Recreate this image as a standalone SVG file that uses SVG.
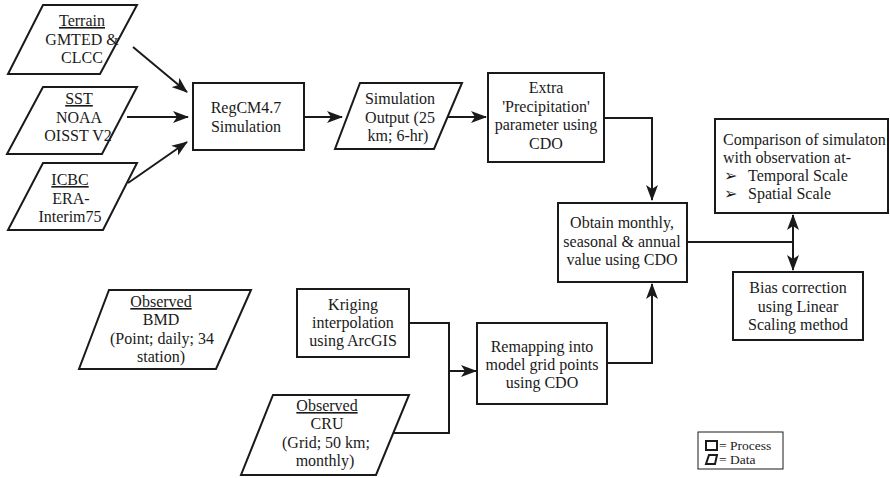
<svg xmlns="http://www.w3.org/2000/svg" width="890" height="478" viewBox="0 0 890 478">
<defs>
<style>
.b{fill:#fff;stroke:#1a1a1a;stroke-width:2}
.t{font-family:"Liberation Serif","Times New Roman",serif;font-size:16px;fill:#1a1a1a;text-anchor:middle}
.l{text-anchor:start}
.u{text-decoration:underline}
.c{fill:none;stroke:#1a1a1a;stroke-width:2}
.lg{font-family:"Liberation Serif","Times New Roman",serif;font-size:13.5px;fill:#1a1a1a}
</style>
<marker id="ah" viewBox="0 0 16 12" refX="15" refY="6" markerWidth="16" markerHeight="12" markerUnits="userSpaceOnUse" orient="auto-start-reverse">
<path d="M0,0 L16,6 L0,12 L4,6 z" fill="#1a1a1a"/>
</marker>
</defs>
<rect width="890" height="478" fill="#fff"/>

<g id="connectors">
<line class="c" x1="133" y1="47" x2="187" y2="92" marker-end="url(#ah)"/>
<line class="c" x1="127" y1="117" x2="188" y2="117" marker-end="url(#ah)"/>
<line class="c" x1="128" y1="183" x2="187" y2="142" marker-end="url(#ah)"/>
<line class="c" x1="304" y1="117" x2="342" y2="117" marker-end="url(#ah)"/>
<line class="c" x1="448" y1="117" x2="486" y2="117" marker-end="url(#ah)"/>
<polyline class="c" points="604,118 652,118 652,200" marker-end="url(#ah)"/>
<polyline class="c" points="687,242 793,242"/>
<line class="c" x1="793" y1="242" x2="793" y2="215" marker-end="url(#ah)"/>
<line class="c" x1="793" y1="242" x2="793" y2="270" marker-end="url(#ah)"/>
<polyline class="c" points="607,363 652,363 652,284" marker-end="url(#ah)"/>
<polyline class="c" points="409,323 449,323 449,433 393,433"/>
<line class="c" x1="449" y1="371" x2="476" y2="371" marker-end="url(#ah)"/>
</g>

<g id="terrain">
<polygon class="b" points="43,5 137,5 100,74 8,74"/>
<text class="t" x="82" y="26"><tspan class="u">Terrain</tspan></text>
<text class="t" x="82" y="44.5">GMTED &amp;</text>
<text class="t" x="82" y="63">CLCC</text>
</g>
<g id="sst">
<polygon class="b" points="43,87 137,87 102,154 7,154"/>
<text class="t" x="79" y="104"><tspan class="u">SST</tspan></text>
<text class="t" x="79" y="122.5">NOAA</text>
<text class="t" x="78" y="141">OISST V2</text>
</g>
<g id="icbc">
<polygon class="b" points="43,163 137,163 103,230 8,230"/>
<text class="t" x="70" y="185"><tspan class="u">ICBC</tspan></text>
<text class="t" x="71" y="203.5">ERA-</text>
<text class="t" x="70" y="222">Interim75</text>
</g>
<g id="regcm">
<rect class="b" x="193" y="83" width="111" height="67"/>
<text class="t" x="246" y="113">RegCM4.7</text>
<text class="t" x="246" y="131.5">Simulation</text>
</g>
<g id="simout">
<polygon class="b" points="360,83 462,83 434,149 335,149"/>
<text class="t" x="400" y="104">Simulation</text>
<text class="t" x="400" y="122.5">Output (25</text>
<text class="t" x="398" y="141">km; 6-hr)</text>
</g>
<g id="extra">
<rect class="b" x="488" y="73" width="116" height="89"/>
<text class="t" x="546" y="93">Extra</text>
<text class="t" x="546" y="111.5">'Precipitation'</text>
<text class="t" x="546" y="130">parameter using</text>
<text class="t" x="546" y="148.5">CDO</text>
</g>
<g id="obtain">
<rect class="b" x="558" y="203" width="129" height="79"/>
<text class="t" x="622" y="228">Obtain monthly,</text>
<text class="t" x="622" y="246.5">seasonal &amp; annual</text>
<text class="t" x="622" y="265">value using CDO</text>
</g>
<g id="comparison">
<rect class="b" x="715" y="119" width="173" height="94"/>
<text class="t l" x="723" y="145">Comparison of simulaton</text>
<text class="t l" x="723" y="163">with observation at-</text>
<text class="t l" x="724" y="181">➢</text>
<text class="t l" x="748" y="181">Temporal Scale</text>
<text class="t l" x="724" y="199">➢</text>
<text class="t l" x="748" y="199">Spatial Scale</text>
</g>
<g id="bias">
<rect class="b" x="733" y="272" width="130" height="68"/>
<text class="t" x="798" y="293">Bias correction</text>
<text class="t" x="798" y="311.5">using Linear</text>
<text class="t" x="798" y="330">Scaling method</text>
</g>
<g id="bmd">
<polygon class="b" points="109,290 251,290 216,369 79,369"/>
<text class="t" x="161" y="307"><tspan class="u">Observed</tspan></text>
<text class="t" x="161" y="325">BMD</text>
<text class="t" x="162" y="343.5">(Point; daily; 34</text>
<text class="t" x="161" y="362">station)</text>
</g>
<g id="kriging">
<rect class="b" x="297" y="289" width="112" height="68"/>
<text class="t" x="353" y="310">Kriging</text>
<text class="t" x="353" y="328">interpolation</text>
<text class="t" x="353" y="346">using ArcGIS</text>
</g>
<g id="cru">
<polygon class="b" points="273,395 409,395 376,475 241,475"/>
<text class="t" x="327" y="411"><tspan class="u">Observed</tspan></text>
<text class="t" x="327" y="429">CRU</text>
<text class="t" x="326" y="447.5">(Grid; 50 km;</text>
<text class="t" x="325" y="466">monthly)</text>
</g>
<g id="remapping">
<rect class="b" x="477" y="323" width="130" height="81"/>
<text class="t" x="542" y="352">Remapping into</text>
<text class="t" x="542" y="370">model grid points</text>
<text class="t" x="542" y="388">using CDO</text>
</g>
<g id="legend">
<rect x="698" y="432" width="85" height="37" fill="#fff" stroke="#1a1a1a" stroke-width="1"/>
<rect x="706" y="441" width="11" height="9" fill="none" stroke="#1a1a1a" stroke-width="2"/>
<polygon points="709,455 717,455 715,464 706,464" fill="none" stroke="#1a1a1a" stroke-width="2"/>
<text class="lg" x="719" y="450">= Process</text>
<text class="lg" x="719" y="464">= Data</text>
</g>
</svg>
